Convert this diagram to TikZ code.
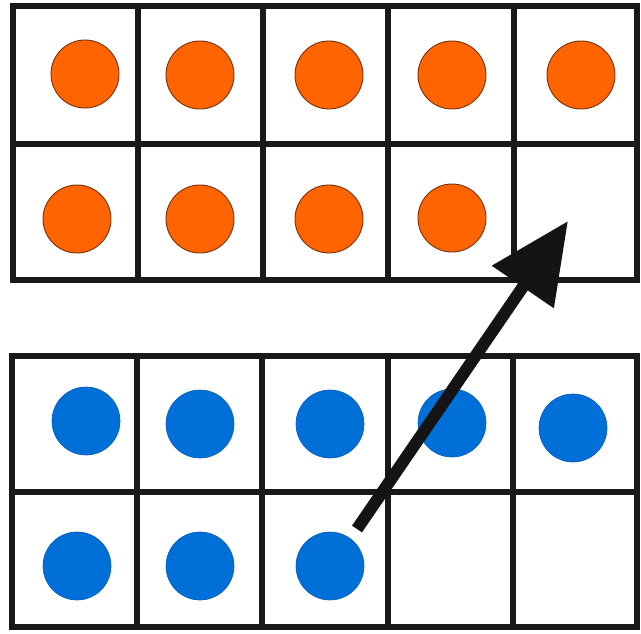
\documentclass[tikz,border=0pt]{standalone}
\usetikzlibrary{arrows.meta}
\definecolor{dotorange}{RGB}{255,100,0}
\definecolor{dotorangeedge}{RGB}{120,50,10}
\definecolor{dotblue}{RGB}{0,112,216}
\definecolor{dotblueedge}{RGB}{0,90,180}
\tikzset{
  gridline/.style={line width=6.5pt, black!90, line cap=rect},
  odot/.style={circle, fill=dotorange, draw=dotorangeedge, line width=0.9pt, minimum size=68pt, inner sep=0pt},
  bdot/.style={circle, fill=dotblue, draw=dotblueedge, line width=0.6pt, minimum size=68pt, inner sep=0pt},
  bigarrow/.style={line width=12pt, black!92, -{Triangle[length=80pt,width=72pt]}}
}
\begin{document}
\begin{tikzpicture}[x=1pt,y=-1pt]
\useasboundingbox (0,0) rectangle (641,633);
\fill[white] (0,0) rectangle (641,633);
% top grid
\draw[gridline] (13,6) rectangle (637,280);
\draw[gridline] (13,144) -- (637,144);
\foreach \x in {138,263,388,514} \draw[gridline] (\x,6) -- (\x,280);
% bottom grid
\draw[gridline] (12,356) rectangle (637,627);
\draw[gridline] (12,492) -- (637,492);
\foreach \x in {137,262,388,513} \draw[gridline] (\x,356) -- (\x,627);
% orange dots
\node[odot] (o11) at (85,74) {};
\node[odot] (o12) at (200,75) {};
\node[odot] (o13) at (329,75) {};
\node[odot] (o14) at (452,75) {};
\node[odot] (o15) at (581,75) {};
\node[odot] (o21) at (77,219) {};
\node[odot] (o22) at (200,219) {};
\node[odot] (o23) at (329,219) {};
\node[odot] (o24) at (452,218) {};
% blue dots
\node[bdot] (b11) at (86,421) {};
\node[bdot] (b12) at (200,424) {};
\node[bdot] (b13) at (330,424) {};
\node[bdot] (b14) at (452,423) {};
\node[bdot] (b15) at (573,428) {};
\node[bdot] (b21) at (77,566) {};
\node[bdot] (b22) at (200,566) {};
\node[bdot] (b23) at (330,566) {};
% arrow
\coordinate (start) at (357,529);
\coordinate (tip) at (568,221);
\draw[bigarrow] (start) -- (tip);
\end{tikzpicture}
\end{document}
